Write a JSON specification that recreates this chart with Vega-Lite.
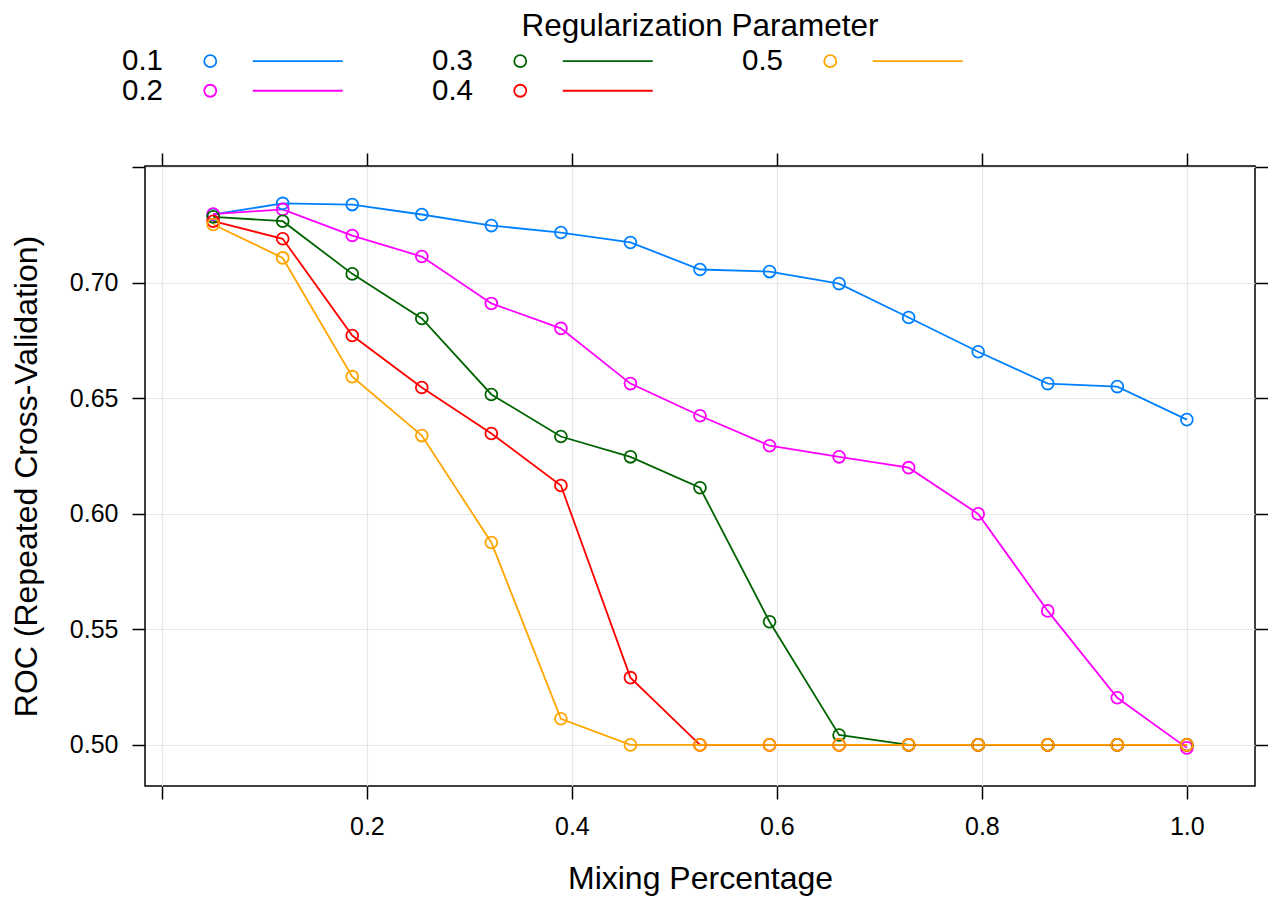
{
  "$schema": "https://vega.github.io/schema/vega-lite/v6.json",
  "autosize": {"type": "none"},
  "width": 1110,
  "height": 620,
  "padding": {"left": 145, "top": 166, "right": 13, "bottom": 113},
  "background": "white",
  "config": {
    "font": "Liberation Sans",
    "view": {"stroke": "black", "strokeWidth": 1.5},
    "axis": {"labelFont": "Liberation Sans", "titleFont": "Liberation Sans", "labelColor": "black", "titleColor": "black", "tickColor": "black", "tickWidth": 1.5, "tickSize": 13, "domain": false, "labelFontSize": 25, "titleFontSize": 32, "titleFontWeight": "normal", "gridColor": "#e6e6e6", "gridWidth": 1.2}
  },
  "title": {"text": "Regularization Parameter", "anchor": "middle", "frame": "group", "fontSize": 31.5, "fontWeight": "normal", "font": "Liberation Sans", "color": "black", "offset": 4},
  "data": {"values": [
    {"mix": 0.05, "roc": 0.7296, "reg": "0.1"},
    {"mix": 0.11786, "roc": 0.7344, "reg": "0.1"},
    {"mix": 0.18571, "roc": 0.7339, "reg": "0.1"},
    {"mix": 0.25357, "roc": 0.7296, "reg": "0.1"},
    {"mix": 0.32143, "roc": 0.7248, "reg": "0.1"},
    {"mix": 0.38929, "roc": 0.7218, "reg": "0.1"},
    {"mix": 0.45714, "roc": 0.7175, "reg": "0.1"},
    {"mix": 0.525, "roc": 0.7058, "reg": "0.1"},
    {"mix": 0.59286, "roc": 0.7049, "reg": "0.1"},
    {"mix": 0.66071, "roc": 0.6997, "reg": "0.1"},
    {"mix": 0.72857, "roc": 0.685, "reg": "0.1"},
    {"mix": 0.79643, "roc": 0.6702, "reg": "0.1"},
    {"mix": 0.86429, "roc": 0.6564, "reg": "0.1"},
    {"mix": 0.93214, "roc": 0.6551, "reg": "0.1"},
    {"mix": 1.0, "roc": 0.6408, "reg": "0.1"},
    {"mix": 0.05, "roc": 0.7298, "reg": "0.2"},
    {"mix": 0.11786, "roc": 0.7318, "reg": "0.2"},
    {"mix": 0.18571, "roc": 0.7205, "reg": "0.2"},
    {"mix": 0.25357, "roc": 0.7114, "reg": "0.2"},
    {"mix": 0.32143, "roc": 0.6911, "reg": "0.2"},
    {"mix": 0.38929, "roc": 0.6803, "reg": "0.2"},
    {"mix": 0.45714, "roc": 0.6564, "reg": "0.2"},
    {"mix": 0.525, "roc": 0.6425, "reg": "0.2"},
    {"mix": 0.59286, "roc": 0.6295, "reg": "0.2"},
    {"mix": 0.66071, "roc": 0.6247, "reg": "0.2"},
    {"mix": 0.72857, "roc": 0.62, "reg": "0.2"},
    {"mix": 0.79643, "roc": 0.6, "reg": "0.2"},
    {"mix": 0.86429, "roc": 0.558, "reg": "0.2"},
    {"mix": 0.93214, "roc": 0.5204, "reg": "0.2"},
    {"mix": 1.0, "roc": 0.4987, "reg": "0.2"},
    {"mix": 0.05, "roc": 0.7286, "reg": "0.3"},
    {"mix": 0.11786, "roc": 0.7267, "reg": "0.3"},
    {"mix": 0.18571, "roc": 0.7039, "reg": "0.3"},
    {"mix": 0.25357, "roc": 0.6846, "reg": "0.3"},
    {"mix": 0.32143, "roc": 0.6517, "reg": "0.3"},
    {"mix": 0.38929, "roc": 0.6335, "reg": "0.3"},
    {"mix": 0.45714, "roc": 0.6247, "reg": "0.3"},
    {"mix": 0.525, "roc": 0.6113, "reg": "0.3"},
    {"mix": 0.59286, "roc": 0.5533, "reg": "0.3"},
    {"mix": 0.66071, "roc": 0.5043, "reg": "0.3"},
    {"mix": 0.72857, "roc": 0.5, "reg": "0.3"},
    {"mix": 0.79643, "roc": 0.5, "reg": "0.3"},
    {"mix": 0.86429, "roc": 0.5, "reg": "0.3"},
    {"mix": 0.93214, "roc": 0.5, "reg": "0.3"},
    {"mix": 1.0, "roc": 0.5, "reg": "0.3"},
    {"mix": 0.05, "roc": 0.7267, "reg": "0.4"},
    {"mix": 0.11786, "roc": 0.7191, "reg": "0.4"},
    {"mix": 0.18571, "roc": 0.6772, "reg": "0.4"},
    {"mix": 0.25357, "roc": 0.6547, "reg": "0.4"},
    {"mix": 0.32143, "roc": 0.6348, "reg": "0.4"},
    {"mix": 0.38929, "roc": 0.6123, "reg": "0.4"},
    {"mix": 0.45714, "roc": 0.5291, "reg": "0.4"},
    {"mix": 0.525, "roc": 0.5, "reg": "0.4"},
    {"mix": 0.59286, "roc": 0.5, "reg": "0.4"},
    {"mix": 0.66071, "roc": 0.5, "reg": "0.4"},
    {"mix": 0.72857, "roc": 0.5, "reg": "0.4"},
    {"mix": 0.79643, "roc": 0.5, "reg": "0.4"},
    {"mix": 0.86429, "roc": 0.5, "reg": "0.4"},
    {"mix": 0.93214, "roc": 0.5, "reg": "0.4"},
    {"mix": 1.0, "roc": 0.5, "reg": "0.4"},
    {"mix": 0.05, "roc": 0.7253, "reg": "0.5"},
    {"mix": 0.11786, "roc": 0.7108, "reg": "0.5"},
    {"mix": 0.18571, "roc": 0.6594, "reg": "0.5"},
    {"mix": 0.25357, "roc": 0.6339, "reg": "0.5"},
    {"mix": 0.32143, "roc": 0.5876, "reg": "0.5"},
    {"mix": 0.38929, "roc": 0.5113, "reg": "0.5"},
    {"mix": 0.45714, "roc": 0.5, "reg": "0.5"},
    {"mix": 0.525, "roc": 0.5, "reg": "0.5"},
    {"mix": 0.59286, "roc": 0.5, "reg": "0.5"},
    {"mix": 0.66071, "roc": 0.5, "reg": "0.5"},
    {"mix": 0.72857, "roc": 0.5, "reg": "0.5"},
    {"mix": 0.79643, "roc": 0.5, "reg": "0.5"},
    {"mix": 0.86429, "roc": 0.5, "reg": "0.5"},
    {"mix": 0.93214, "roc": 0.5, "reg": "0.5"},
    {"mix": 1.0, "roc": 0.5, "reg": "0.5"}
  ]},
  "layer": [
    {
      "mark": {"type": "line", "strokeWidth": 1.8},
      "encoding": {
        "x": {"field": "mix", "type": "quantitative", "scale": {"domain": [-0.0165, 1.0665], "nice": false, "zero": false},
              "axis": {"orient": "bottom", "title": "Mixing Percentage", "values": [0, 0.2, 0.4, 0.6, 0.8, 1.0], "labelExpr": "datum.value < 0.1 ? '' : format(datum.value, '.1f')", "labelPadding": 15, "titlePadding": 24, "grid": true}},
        "y": {"field": "roc", "type": "quantitative", "scale": {"domain": [0.4822, 0.7506], "nice": false, "zero": false},
              "axis": {"orient": "left", "title": "ROC (Repeated Cross-Validation)", "values": [0.5, 0.55, 0.6, 0.65, 0.7, 0.75], "labelExpr": "datum.value > 0.72 ? '' : format(datum.value, '.2f')", "labelPadding": 14, "titlePadding": 26, "grid": true}},
        "color": {"field": "reg", "type": "nominal",
                  "scale": {"domain": ["0.1", "0.2", "0.3", "0.4", "0.5"], "range": ["#0080ff", "#ff00ff", "#006400", "#ff0000", "#ffa500"]},
                  "legend": {"orient": "none", "legendX": 50.5, "legendY": -120, "columns": 3, "title": null,
                             "symbolType": "M -0.4615 0 A 0.4615 0.4615 0 1 0 0.4615 0 A 0.4615 0.4615 0 1 0 -0.4615 0 M 3.269 0 L 10.192 0",
                             "symbolSize": 676, "symbolStrokeWidth": 1.8, "symbolFillColor": "transparent",
                             "labelFontSize": 29.5, "labelFont": "Liberation Sans", "labelColor": "black", "labelAlign": "right", "labelOffset": -62,
                             "columnPadding": 85, "rowPadding": -1, "padding": 0}}
      }
    },
    {
      "mark": {"type": "point", "filled": false, "size": 140, "strokeWidth": 1.8, "opacity": 1},
      "encoding": {
        "x": {"field": "mix", "type": "quantitative",
              "axis": {"orient": "top", "title": null, "values": [0, 0.2, 0.4, 0.6, 0.8, 1.0], "labels": false, "grid": false}},
        "y": {"field": "roc", "type": "quantitative",
              "axis": {"orient": "right", "title": null, "values": [0.5, 0.55, 0.6, 0.65, 0.7, 0.75], "labels": false, "grid": false}},
        "color": {"field": "reg", "type": "nominal",
                  "legend": {"orient": "none", "legendX": 50.5, "legendY": -120, "columns": 3, "title": null,
                             "symbolType": "M -0.4615 0 A 0.4615 0.4615 0 1 0 0.4615 0 A 0.4615 0.4615 0 1 0 -0.4615 0 M 3.269 0 L 10.192 0",
                             "symbolSize": 676, "symbolStrokeWidth": 1.8, "symbolFillColor": "transparent",
                             "labelFontSize": 29.5, "labelFont": "Liberation Sans", "labelColor": "black", "labelAlign": "right", "labelOffset": -62,
                             "columnPadding": 85, "rowPadding": -1, "padding": 0}}
      }
    }
  ]
}
